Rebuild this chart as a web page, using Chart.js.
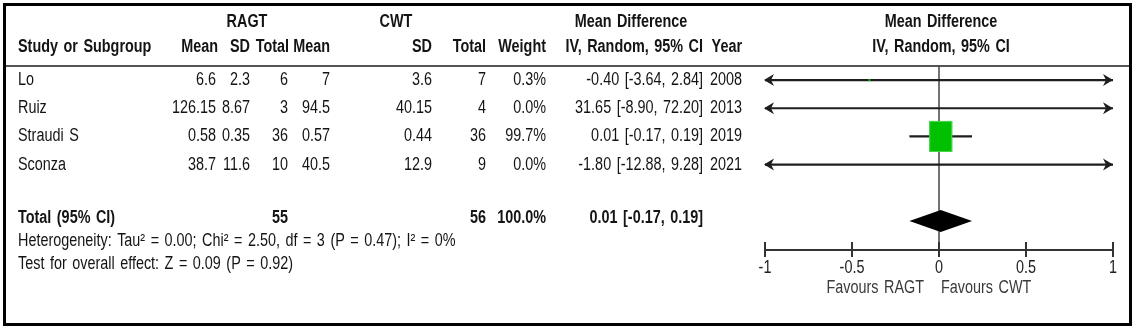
<!DOCTYPE html>
<html>
<head>
<meta charset="utf-8">
<title>Forest plot: RAGT vs CWT</title>
<script src="https://cdn.jsdelivr.net/npm/chart.js@4.4.1/dist/chart.umd.min.js"></script>
<style>
  html, body { margin: 0; padding: 0; background: #fff; }
  #wrap { width: 1137px; height: 333px; }
</style>
</head>
<body>
<div id="wrap"><canvas id="forest" width="1137" height="333"></canvas></div>
<script>
// ── 1. DATA ──────────────────────────────────────────────────
const studies   = ["Lo", "Ruiz", "Straudi S", "Sconza"];
const ragtMean  = ["6.6", "126.15", "0.58", "38.7"];
const ragtSD    = ["2.3", "8.67", "0.35", "11.6"];
const ragtN     = [6, 3, 36, 10];
const cwtMean   = ["7", "94.5", "0.57", "40.5"];
const cwtSD     = ["3.6", "40.15", "0.44", "12.9"];
const cwtN      = [7, 4, 36, 9];
const weights   = [0.3, 0.0, 99.7, 0.0];
const meanDiff  = [-0.40, 31.65, 0.01, -1.80];
const ciLower   = [-3.64, -8.90, -0.17, -12.88];
const ciUpper   = [2.84, 72.20, 0.19, 9.28];
const years     = [2008, 2013, 2019, 2021];

const pooled    = { md: 0.01, lo: -0.17, hi: 0.19 };
const totalRagt = 55;
const totalCwt  = 56;

const xTicks    = [-1, -0.5, 0, 0.5, 1];
const tickText  = ["-1", "-0.5", "0", "0.5", "1"];

const heterogeneity = "Heterogeneity: Tau\u00B2 = 0.00; Chi\u00B2 = 2.50, df = 3 (P = 0.47); I\u00B2 = 0%";
const overallTest   = "Test for overall effect: Z = 0.09 (P = 0.92)";

// row slots on the y scale (study rows, then the total row after a gap)
const rowPos   = [0, 1, 2, 3];
const totalRow = 5;

// ── 2. HELPERS ────────────────────────────────────────────────
const FONT = "'Liberation Sans', Arial, sans-serif";
const FS   = 18;
const SX   = 0.8;   // squeeze to imitate the narrow font
const GAP  = 1.5;   // extra room after each space, like the hinted original

const ci = (m, l, u) => `${m.toFixed(2)} [${l.toFixed(2)}, ${u.toFixed(2)}]`;

// draws text word by word, squeezed horizontally, with wider spaces
function txt(ctx, s, px, py, align, bold, color) {
  ctx.save();
  ctx.font = (bold ? "bold " : "") + FS + "px " + FONT;
  ctx.fillStyle = color || "#141414";
  ctx.textBaseline = "middle";
  ctx.textAlign = "left";
  const words = s.split(" ");
  const space = ctx.measureText(" ").width * SX + GAP;
  const widths = words.map((w) => ctx.measureText(w).width * SX);
  const total = widths.reduce((a, b) => a + b, 0) + space * (words.length - 1);
  let cx = align === "right" ? px - total : align === "center" ? px - total / 2 : px;
  words.forEach((w, i) => {
    ctx.save();
    ctx.translate(cx, py);
    ctx.scale(SX, 1);
    ctx.fillText(w, 0, 0);
    ctx.restore();
    cx += widths[i] + space;
  });
  ctx.restore();
}

function arrowHead(ctx, tipX, yy, dir) {
  ctx.beginPath();
  ctx.moveTo(tipX, yy);
  ctx.lineTo(tipX - dir * 10, yy - 6);
  ctx.lineTo(tipX - dir * 7, yy);
  ctx.lineTo(tipX - dir * 10, yy + 6);
  ctx.closePath();
  ctx.fill();
}

// column right edges for the table
const COL = { ragtMean: 216, ragtSD: 250, ragtN: 288, cwtMean: 330, cwtSD: 432, cwtN: 486, weight: 546, ci: 703, year: 742 };

// ── 3. PLUGIN: table + forest marks ───────────────────────────
const forestPlugin = {
  id: "forest",
  afterDatasetsDraw(chart) {
    const { ctx, chartArea: area, scales: { x, y } } = chart;
    const xMin = x.min, xMax = x.max;

    ctx.save();

    // outer frame
    ctx.strokeStyle = "#000";
    ctx.lineWidth = 3;
    ctx.strokeRect(4.5, 4.5, 1126, 320);

    // header rule
    ctx.strokeStyle = "#555";
    ctx.lineWidth = 2;
    ctx.beginPath();
    ctx.moveTo(6, area.top);
    ctx.lineTo(1129, area.top);
    ctx.stroke();

    // line of no effect
    const x0 = x.getPixelForValue(0);
    ctx.strokeStyle = "#444";
    ctx.lineWidth = 1.5;
    ctx.beginPath();
    ctx.moveTo(x0, area.top);
    ctx.lineTo(x0, area.bottom);
    ctx.stroke();

    // confidence intervals, arrows and weight squares
    studies.forEach((s, i) => {
      const yy = y.getPixelForValue(rowPos[i]);
      const l = Math.max(ciLower[i], xMin), u = Math.min(ciUpper[i], xMax);
      ctx.strokeStyle = "#1e1e1e";
      ctx.fillStyle = "#1e1e1e";
      ctx.lineWidth = 2.2;
      ctx.beginPath();
      ctx.moveTo(x.getPixelForValue(l), yy);
      ctx.lineTo(x.getPixelForValue(u), yy);
      ctx.stroke();
      if (ciLower[i] < xMin) arrowHead(ctx, x.getPixelForValue(xMin) - 1, yy, -1);
      if (ciUpper[i] > xMax) arrowHead(ctx, x.getPixelForValue(xMax), yy, 1);

      if (weights[i] > 0 && meanDiff[i] >= xMin && meanDiff[i] <= xMax) {
        const f = Math.sqrt(weights[i] / 99.7);
        const w = Math.max(23 * f, 2), h = Math.max(31 * f, 2);
        const cx = x.getPixelForValue(meanDiff[i]);
        ctx.fillStyle = "#00c000";
        ctx.fillRect(cx - w / 2, yy - h / 2, w, h);
        if (w > 4) {
          ctx.strokeStyle = "#4fd64f";
          ctx.lineWidth = 1;
          ctx.strokeRect(cx - w / 2 + 0.5, yy - h / 2 + 0.5, w - 1, h - 1);
        }
      }
    });

    // pooled diamond
    const yT = y.getPixelForValue(totalRow);
    ctx.fillStyle = "#000";
    ctx.beginPath();
    ctx.moveTo(x.getPixelForValue(pooled.lo), yT);
    ctx.lineTo(x.getPixelForValue(pooled.md), yT - 11);
    ctx.lineTo(x.getPixelForValue(pooled.hi), yT);
    ctx.lineTo(x.getPixelForValue(pooled.md), yT + 11);
    ctx.closePath();
    ctx.fill();

    // x axis
    const ya = area.bottom;
    ctx.strokeStyle = "#333";
    ctx.lineWidth = 2;
    ctx.beginPath();
    ctx.moveTo(x.getPixelForValue(xMin), ya);
    ctx.lineTo(x.getPixelForValue(xMax), ya);
    xTicks.forEach((t) => {
      const tx = x.getPixelForValue(t);
      ctx.moveTo(tx, ya - 8);
      ctx.lineTo(tx, ya + 7);
    });
    ctx.stroke();
    xTicks.forEach((t, i) => txt(ctx, tickText[i], x.getPixelForValue(t), ya + 18, "center", false, "#222"));
    txt(ctx, "Favours RAGT", x0 - 15, ya + 38, "right", false, "#3a3a3a");
    txt(ctx, "Favours CWT", x0 + 2, ya + 38, "left", false, "#3a3a3a");

    // headers
    txt(ctx, "RAGT", 247, 22, "center", true);
    txt(ctx, "CWT", 396, 22, "center", true);
    txt(ctx, "Mean Difference", 631, 22, "center", true);
    txt(ctx, "Mean Difference", x0 + 2, 22, "center", true);
    txt(ctx, "Study or Subgroup", 18, 47, "left", true);
    txt(ctx, "Mean", COL.ragtMean + 2, 47, "right", true);
    txt(ctx, "SD", COL.ragtSD, 47, "right", true);
    txt(ctx, "Total", COL.ragtN + 1, 47, "right", true);
    txt(ctx, "Mean", COL.cwtMean, 47, "right", true);
    txt(ctx, "SD", COL.cwtSD, 47, "right", true);
    txt(ctx, "Total", COL.cwtN, 47, "right", true);
    txt(ctx, "Weight", COL.weight, 47, "right", true);
    txt(ctx, "IV, Random, 95% CI", COL.ci, 47, "right", true);
    txt(ctx, "Year", COL.year, 47, "right", true);
    txt(ctx, "IV, Random, 95% CI", x0 + 2, 47, "center", true);

    // study rows
    studies.forEach((s, i) => {
      const yy = y.getPixelForValue(rowPos[i]);
      txt(ctx, s, 18, yy, "left");
      txt(ctx, ragtMean[i], COL.ragtMean, yy, "right");
      txt(ctx, ragtSD[i], COL.ragtSD, yy, "right");
      txt(ctx, String(ragtN[i]), COL.ragtN, yy, "right");
      txt(ctx, cwtMean[i], COL.cwtMean, yy, "right");
      txt(ctx, cwtSD[i], COL.cwtSD, yy, "right");
      txt(ctx, String(cwtN[i]), COL.cwtN, yy, "right");
      txt(ctx, weights[i].toFixed(1) + "%", COL.weight, yy, "right");
      txt(ctx, ci(meanDiff[i], ciLower[i], ciUpper[i]), COL.ci, yy, "right");
      txt(ctx, String(years[i]), COL.year, yy, "right");
    });

    // total row and footnotes
    txt(ctx, "Total (95% CI)", 18, yT - 3, "left", true);
    txt(ctx, String(totalRagt), COL.ragtN, yT - 3, "right", true);
    txt(ctx, String(totalCwt), COL.cwtN, yT - 3, "right", true);
    txt(ctx, "100.0%", COL.weight, yT - 3, "right", true);
    txt(ctx, ci(pooled.md, pooled.lo, pooled.hi), COL.ci, yT - 3, "right", true);
    txt(ctx, heterogeneity, 18, yT + 20, "left");
    txt(ctx, overallTest, 18, yT + 43, "left");

    ctx.restore();
  }
};

// ── 4. CHART ─────────────────────────────────────────────────
new Chart(document.getElementById("forest"), {
  type: "scatter",
  data: {
    datasets: [{
      label: "Mean difference",
      data: studies.map((s, i) => ({ x: meanDiff[i], y: rowPos[i] })),
      pointRadius: 0,
    }],
  },
  options: {
    responsive: false,
    animation: false,
    devicePixelRatio: 1,
    layout: { padding: { left: 765, right: 24, top: 66, bottom: 83 } },
    plugins: { legend: { display: false }, tooltip: { enabled: false } },
    scales: {
      x: { type: "linear", min: -1, max: 1, display: false },
      y: { type: "linear", min: -0.5, max: 6.03, reverse: true, display: false },
    },
  },
  plugins: [forestPlugin],
});
</script>
</body>
</html>
